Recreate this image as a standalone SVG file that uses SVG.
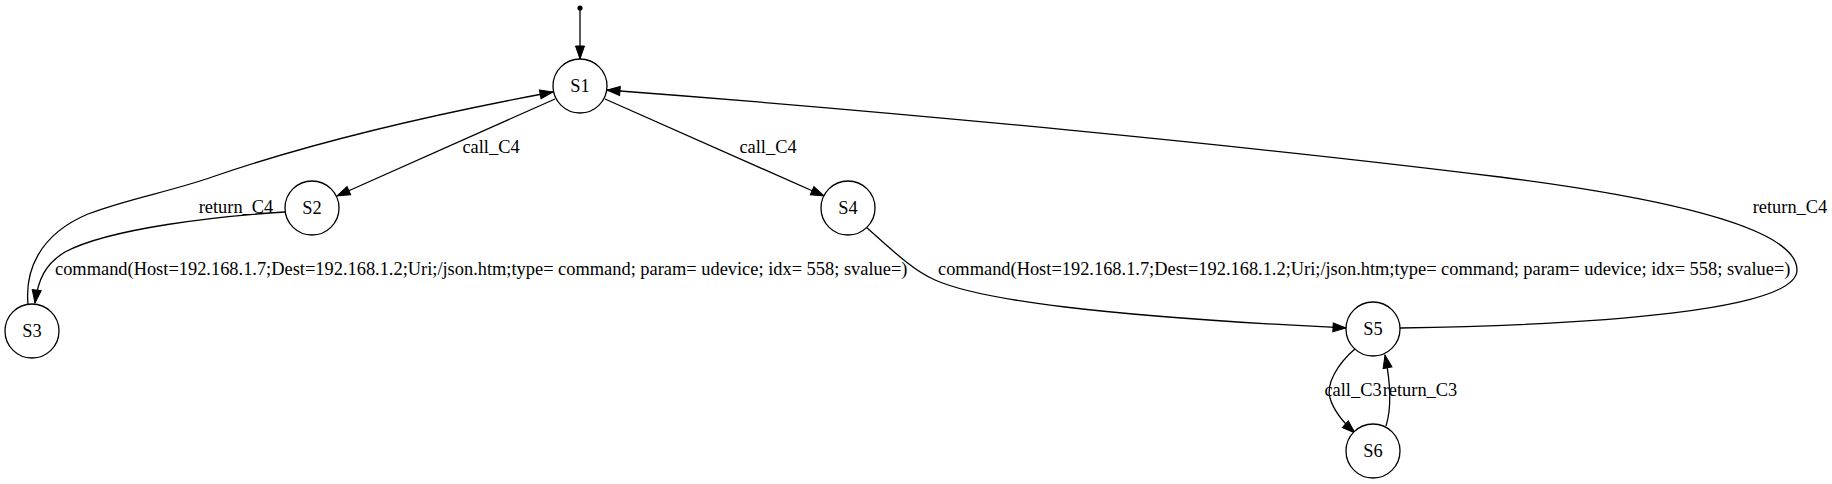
<svg xmlns="http://www.w3.org/2000/svg" width="1832" height="484" viewBox="0 0 1832 484">
<style>
.node circle{fill:#fff;stroke:#000;stroke-width:1.3}
text{font-family:'Liberation Serif','Times New Roman',Times,serif;font-size:18.4px;fill:#000}
.nl{text-anchor:middle}
.edge{fill:none;stroke:#000;stroke-width:1.3;marker-end:url(#ah)}
</style>
<defs>
<marker id="ah" markerUnits="userSpaceOnUse" markerWidth="15" markerHeight="11" refX="13" refY="4.5" orient="auto" overflow="visible">
<path d="M0,0 L13,4.5 L0,9 z" fill="#000" stroke="#000" stroke-width="1"/>
</marker>
</defs>
<rect width="1832" height="484" fill="#fff"/>
<g id="connectors" font-family="'Liberation Serif', 'Times New Roman', serif">
<circle cx="580" cy="8" r="2.6" fill="#000"/>
<path class="edge" d="M580,8 L580,59"/>
<path class="edge" d="M555,99 L337,196"/>
<text x="491" y="153" class="nl" font-family="Liberation Serif, serif">call_C4</text>
<path class="edge" d="M605,99 L824,196"/>
<text x="768" y="153" class="nl" font-family="Liberation Serif, serif">call_C4</text>
<path class="edge" d="M285,212 C220,216 110,228 65,252 C45,264 38,280 35,303"/>
<text x="55" y="275" font-family="Liberation Serif, serif">command(Host=192.168.1.7;Dest=192.168.1.2;Uri;/json.htm;type= command; param= udevice; idx= 558; svalue=)</text>
<path class="edge" d="M28,304 C25,272 38,235 88,214 C130,198 170,192 215,176 C320,140 440,113 553,92"/>
<text x="236" y="213" class="nl" font-family="Liberation Serif, serif">return_C4</text>
<path class="edge" d="M866,227 C890,248 912,270 935,280 C980,300 1100,316 1346,328"/>
<text x="938" y="275" font-family="Liberation Serif, serif">command(Host=192.168.1.7;Dest=192.168.1.2;Uri;/json.htm;type= command; param= udevice; idx= 558; svalue=)</text>
<path class="edge" d="M1400,328 C1600,325 1797,310 1797,270 C1797,238 1720,205 1500,177 C1250,146 900,112 607,90"/>
<text x="1790" y="213" class="nl" font-family="Liberation Serif, serif">return_C4</text>
<path class="edge" d="M1356,348 C1336,365 1326,385 1330,398 C1334,412 1345,424 1355,433"/>
<text x="1353" y="396" class="nl" font-family="Liberation Serif, serif">call_C3</text>
<path class="edge" d="M1386,426 C1391,410 1392,390 1385,355"/>
<text x="1420" y="396" class="nl" font-family="Liberation Serif, serif">return_C3</text>
</g>
<g id="S1" class="node"><circle cx="580" cy="86" r="27"/><text x="580" y="92" class="nl" font-family="Liberation Serif, serif">S1</text></g>
<g id="S2" class="node"><circle cx="312" cy="208" r="27"/><text x="312" y="214" class="nl" font-family="Liberation Serif, serif">S2</text></g>
<g id="S3" class="node"><circle cx="32" cy="331" r="27"/><text x="32" y="337" class="nl" font-family="Liberation Serif, serif">S3</text></g>
<g id="S4" class="node"><circle cx="848" cy="208" r="27"/><text x="848" y="214" class="nl" font-family="Liberation Serif, serif">S4</text></g>
<g id="S5" class="node"><circle cx="1373" cy="329" r="27"/><text x="1373" y="335" class="nl" font-family="Liberation Serif, serif">S5</text></g>
<g id="S6" class="node"><circle cx="1373" cy="451" r="27"/><text x="1373" y="457" class="nl" font-family="Liberation Serif, serif">S6</text></g>
</svg>
